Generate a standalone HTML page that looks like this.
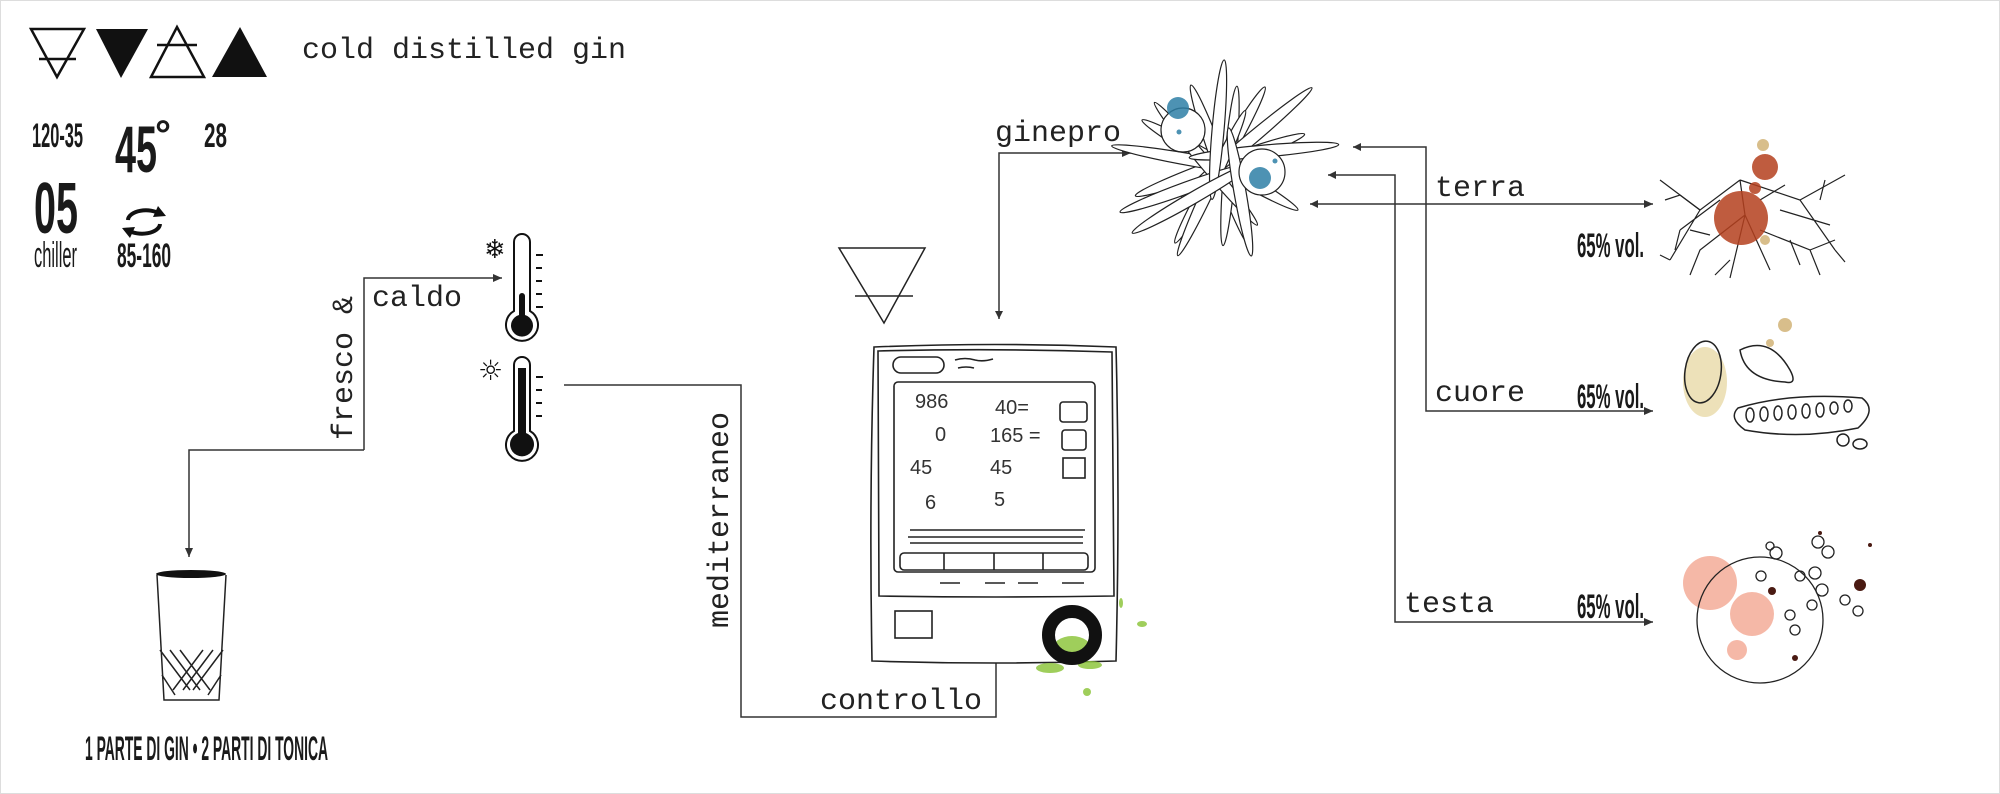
<!DOCTYPE html>
<html><head><meta charset="utf-8"><style>
html,body{margin:0;padding:0;background:#fff;}
svg{display:block;}
.m{font-family:"Liberation Mono",monospace;fill:#222;}
.c{font-family:"Liberation Sans",sans-serif;font-weight:bold;fill:#1a1a1a;}
</style></head><body>
<svg width="2000" height="794" viewBox="0 0 2000 794" xmlns="http://www.w3.org/2000/svg">
<defs>
<marker id="ar" markerWidth="10" markerHeight="10" refX="9" refY="5" orient="auto" markerUnits="userSpaceOnUse">
<path d="M0,1 L9,5 L0,9 Z" fill="#333"/></marker>
</defs>
<rect x="0.5" y="0.5" width="1999" height="793" fill="#fff" stroke="#ddd"/>
<!-- triangles -->
<g stroke="#111" stroke-width="2.5" fill="none">
<path d="M31,29 L84,29 L57,77 Z"/><line x1="39" y1="59" x2="76" y2="59"/>
<path d="M151,77 L204,77 L177,27 Z"/><line x1="157" y1="45" x2="197" y2="45"/>
</g>
<path d="M96,29 L148,29 L121,78 Z" fill="#111"/>
<path d="M212,77 L267,77 L240,27 Z" fill="#111"/>
<text class="m" x="302" y="58" font-size="30">cold distilled gin</text>
<!-- numbers -->
<text class="c" x="32" y="147" font-size="34" textLength="51" lengthAdjust="spacingAndGlyphs">120-35</text>
<text class="c" x="115" y="172" font-size="66" textLength="42" lengthAdjust="spacingAndGlyphs">45</text>
<text class="c" x="155" y="148" font-size="40">°</text>
<text class="c" x="204" y="147" font-size="34" textLength="23" lengthAdjust="spacingAndGlyphs">28</text>
<text class="c" x="34" y="233" font-size="72" textLength="44" lengthAdjust="spacingAndGlyphs">05</text>
<text x="34" y="267" font-family="Liberation Sans,sans-serif" font-size="36" fill="#1a1a1a" textLength="43" lengthAdjust="spacingAndGlyphs">chiller</text>
<g fill="none" stroke="#111" stroke-width="4">
<path d="M128,220 A18,10 0 0 1 160,214"/><path d="M160,224 A18,10 0 0 1 128,230"/>
</g>
<path d="M158,206 L166,216 L153,217 Z M130,238 L122,228 L135,227 Z" fill="#111"/>
<text class="c" x="117" y="267" font-size="34" textLength="54" lengthAdjust="spacingAndGlyphs">85-160</text>
<!-- thermometers -->
<g fill="none" stroke="#111" stroke-width="2">
<path d="M514,311 L514,242 A8,8 0 0 1 530,242 L530,311 A16,16 0 1 1 514,311 Z"/>
<path d="M514,431 L514,365 A8,8 0 0 1 530,365 L530,431 A16,16 0 1 1 514,431 Z"/>
<path d="M536,255h7M536,268h6M536,281h6M536,294h6M536,307h7"/>
<path d="M536,377h7M536,390h6M536,403h6M536,416h6"/>
</g>
<path d="M519,315 L519,296 A3,3 0 0 1 525,296 L525,315 A11,11 0 1 1 519,315 Z" fill="#111"/>
<path d="M518,433 L518,368 L526,368 L526,433 A12,12 0 1 1 518,433 Z" fill="#111"/>
<text x="484" y="258" font-size="26" fill="#111" font-family="DejaVu Sans,sans-serif">❄</text>
<text x="478" y="380" font-size="28" fill="#111" font-family="DejaVu Sans,sans-serif">☼</text>
<!-- connectors -->
<g fill="none" stroke="#333" stroke-width="1.5">
<path d="M364,450 L364,278 L502,278" marker-end="url(#ar)"/>
<path d="M364,450 L189,450 L189,557" marker-end="url(#ar)"/>
<path d="M564,385 L741,385 L741,717 L996,717 L996,663"/>
<path d="M999,319 L999,153 L1131,153" marker-end="url(#ar)"/>
<path d="M1353,147 L1426,147 L1426,411 L1653,411" marker-end="url(#ar)"/>
<path d="M1328,175 L1395,175 L1395,622 L1653,622" marker-end="url(#ar)"/>
<path d="M1310,204 L1653,204" marker-end="url(#ar)"/>
</g>
<path d="M1353,147 l8,-4 l0,8 Z M1328,175 l8,-4 l0,8 Z M1310,204 l8,-4 l0,8 Z M999,319 l-4,-8 l8,0 Z" fill="#333"/>
<text class="m" font-size="30" transform="translate(352,440) rotate(-90)">fresco &amp;</text>
<text class="m" x="372" y="306" font-size="30">caldo</text>
<text class="m" font-size="30" transform="translate(728,628) rotate(-90)">mediterraneo</text>
<text class="m" x="820" y="709" font-size="30">controllo</text>
<text class="m" x="995" y="141" font-size="30">ginepro</text>
<text class="m" x="1435" y="196" font-size="30">terra</text>
<text class="m" x="1435" y="401" font-size="30">cuore</text>
<text class="m" x="1404" y="612" font-size="30">testa</text>
<text class="c" x="1577" y="257" font-size="34" textLength="67" lengthAdjust="spacingAndGlyphs">65% vol.</text>
<text class="c" x="1577" y="408" font-size="34" textLength="67" lengthAdjust="spacingAndGlyphs">65% vol.</text>
<text class="c" x="1577" y="618" font-size="34" textLength="67" lengthAdjust="spacingAndGlyphs">65% vol.</text>
<!-- glass -->
<g fill="none" stroke="#222" stroke-width="1.5">
<path d="M157,575 L164,700 L219,700 L226,575"/>
<path d="M160,650 L190,690 M170,650 L200,690 M180,650 L210,690 M223,650 L193,690 M213,650 L183,690 M203,650 L173,690 M162,675 L175,695 M221,675 L208,695"/>
</g>
<ellipse cx="191" cy="574" rx="35" ry="4" fill="#111"/>
<text class="c" x="85" y="760" font-size="34" textLength="243" lengthAdjust="spacingAndGlyphs">1 PARTE DI GIN • 2 PARTI DI TONICA</text>
<!-- triangle with bar -->
<g fill="none" stroke="#222" stroke-width="1.5">
<path d="M839,248 L925,248 L884,323 Z"/><line x1="855" y1="296" x2="913" y2="296"/>
</g>
<!-- device -->
<g fill="none" stroke="#222" stroke-width="1.6">
<path d="M874,347 Q995,342 1116,347 Q1120,500 1116,661 Q995,665 872,661 Q869,500 874,347 Z"/>
<path d="M878,351 Q995,348 1112,352 L1114,596 Q995,598 879,596 Z"/>
<rect x="894" y="382" width="201" height="190" rx="4"/>
<rect x="893" y="357" width="51" height="16" rx="8"/>
<rect x="895" y="611" width="37" height="27"/>
<path d="M910,530 L1085,530 M908,537 L1083,537 M910,543 L1083,543"/>
<rect x="900" y="553" width="188" height="17" rx="4"/>
<path d="M944,553v17 M994,553v17 M1043,553v17"/>
<rect x="1060" y="402" width="27" height="20" rx="3"/><rect x="1062" y="430" width="24" height="20" rx="3"/><rect x="1063" y="458" width="22" height="20"/>
<path d="M955,360 q10,-3 20,0 q8,2 18,-1 M958,368 q8,-2 16,0"/>
<path d="M940,583h20 M985,583h20 M1018,583h20 M1062,583h22"/>
</g>
<g font-family="Liberation Sans,sans-serif" fill="#333" font-size="20">
<text x="915" y="408">986</text><text x="995" y="414">40=</text>
<text x="935" y="441">0</text><text x="990" y="442">165 =</text>
<text x="910" y="474">45</text><text x="990" y="474">45</text>
<text x="925" y="509">6</text><text x="994" y="506">5</text>
</g>
<g fill="#8fc63f" opacity="0.85">
<ellipse cx="1072" cy="650" rx="20" ry="14"/><ellipse cx="1050" cy="668" rx="14" ry="5"/><ellipse cx="1090" cy="665" rx="12" ry="4"/>
<circle cx="1087" cy="692" r="4"/><ellipse cx="1142" cy="624" rx="5" ry="3"/><ellipse cx="1121" cy="603" rx="2" ry="5"/>
</g>
<circle cx="1072" cy="635" r="23.5" fill="none" stroke="#111" stroke-width="13"/>
<!-- juniper -->
<g fill="#fff" stroke="#222" stroke-width="1.2">
<g transform="translate(1220,165)">
<ellipse rx="90" ry="7" transform="rotate(-20)"/><ellipse rx="90" ry="7" transform="rotate(30)"/>
<ellipse rx="85" ry="7" transform="rotate(70)"/><ellipse rx="90" ry="7" transform="rotate(-60)"/>
<ellipse rx="80" ry="6" transform="rotate(-85) translate(0,10)"/><ellipse rx="85" ry="6" transform="rotate(10) translate(-25,0)"/>
<ellipse rx="85" ry="6" transform="rotate(-40) translate(35,0)"/><ellipse rx="80" ry="6" transform="rotate(50) translate(-10,10)"/>
<ellipse rx="75" ry="6" transform="rotate(-5) translate(45,-10)"/><ellipse rx="80" ry="6" transform="rotate(115) translate(20,0)"/>
<ellipse rx="70" ry="6" transform="rotate(160) translate(40,-10)"/><ellipse rx="70" ry="6" transform="rotate(95) translate(-35,5)"/>
<ellipse rx="70" ry="6" transform="rotate(-30) translate(-40,15)"/><ellipse rx="65" ry="6" transform="rotate(80) translate(30,-15)"/>
</g>
<circle cx="1183" cy="130" r="22"/><circle cx="1262" cy="172" r="23"/>
</g>
<g fill="#2e7fa6" opacity="0.85"><circle cx="1178" cy="108" r="11"/><circle cx="1260" cy="178" r="11"/><circle cx="1179" cy="132" r="2.5"/><circle cx="1275" cy="161" r="2.5"/></g>
<!-- root -->
<g fill="none" stroke="#222" stroke-width="1.2">
<path d="M1740,180 L1745,215 L1730,278 M1745,215 L1770,270 M1740,180 L1700,210 L1670,260 M1740,180 L1800,200 L1835,250 M1700,210 L1660,180 M1800,200 L1845,175 M1745,215 L1700,250 L1690,275 M1760,230 L1810,250 L1820,275 M1720,200 L1680,230 M1780,210 L1830,225"/>
<path d="M1700,210 L1680,195 L1665,200 M1680,230 L1675,250 M1810,250 L1835,240 M1820,200 L1825,180 M1730,260 L1715,275 M1790,240 L1800,265 M1670,260 L1660,255 M1835,250 L1845,262 M1760,200 L1785,185 M1710,235 L1690,230"/>
</g>
<g fill="#b5401e" opacity="0.85"><circle cx="1741" cy="218" r="27"/><circle cx="1765" cy="167" r="13"/><circle cx="1755" cy="188" r="6"/></g>
<circle cx="1763" cy="145" r="6" fill="#c8a35a" opacity="0.7"/><circle cx="1765" cy="240" r="5" fill="#c8a35a" opacity="0.7"/>
<!-- cuore -->
<ellipse cx="1705" cy="382" rx="22" ry="35" fill="#e8d9a8" opacity="0.8"/>
<g fill="none" stroke="#222" stroke-width="1.5">
<ellipse cx="1703" cy="372" rx="18" ry="31" transform="rotate(8 1703 372)"/>
<path d="M1740,350 Q1770,335 1790,370 Q1798,385 1785,382 Q1745,380 1740,350 Z"/>
<path d="M1738,408 Q1790,392 1862,398 Q1878,410 1858,428 Q1800,440 1745,430 Q1728,418 1738,408 Z"/>
<ellipse cx="1750" cy="415" rx="4" ry="7"/><ellipse cx="1764" cy="414" rx="4" ry="7"/><ellipse cx="1778" cy="413" rx="4" ry="7"/><ellipse cx="1792" cy="412" rx="4" ry="7"/><ellipse cx="1806" cy="411" rx="4" ry="7"/><ellipse cx="1820" cy="410" rx="4" ry="7"/><ellipse cx="1834" cy="408" rx="4" ry="6"/><ellipse cx="1848" cy="406" rx="4" ry="6"/>
<circle cx="1843" cy="440" r="6"/><ellipse cx="1860" cy="444" rx="7" ry="5"/>
</g>
<circle cx="1785" cy="325" r="7" fill="#c8a35a" opacity="0.7"/><circle cx="1770" cy="343" r="4" fill="#c8a35a" opacity="0.7"/>
<!-- testa -->
<g fill="#f08a6e" opacity="0.6"><circle cx="1710" cy="583" r="27"/><circle cx="1752" cy="614" r="22"/><circle cx="1737" cy="650" r="10"/></g>
<g fill="none" stroke="#222" stroke-width="1.3">
<circle cx="1760" cy="620" r="63"/>
<circle cx="1776" cy="553" r="6"/><circle cx="1761" cy="576" r="5"/><circle cx="1800" cy="576" r="5"/><circle cx="1815" cy="573" r="6"/><circle cx="1822" cy="590" r="6"/><circle cx="1818" cy="542" r="6"/><circle cx="1828" cy="552" r="6"/><circle cx="1845" cy="600" r="5"/><circle cx="1858" cy="611" r="5"/><circle cx="1790" cy="615" r="5"/><circle cx="1795" cy="630" r="5"/><circle cx="1812" cy="605" r="5"/><circle cx="1770" cy="546" r="4"/>
</g>
<g fill="#4a1a12"><circle cx="1860" cy="585" r="6"/><circle cx="1772" cy="591" r="4"/><circle cx="1820" cy="533" r="2"/><circle cx="1870" cy="545" r="2"/><circle cx="1795" cy="658" r="3"/></g>
</svg>
</body></html>
